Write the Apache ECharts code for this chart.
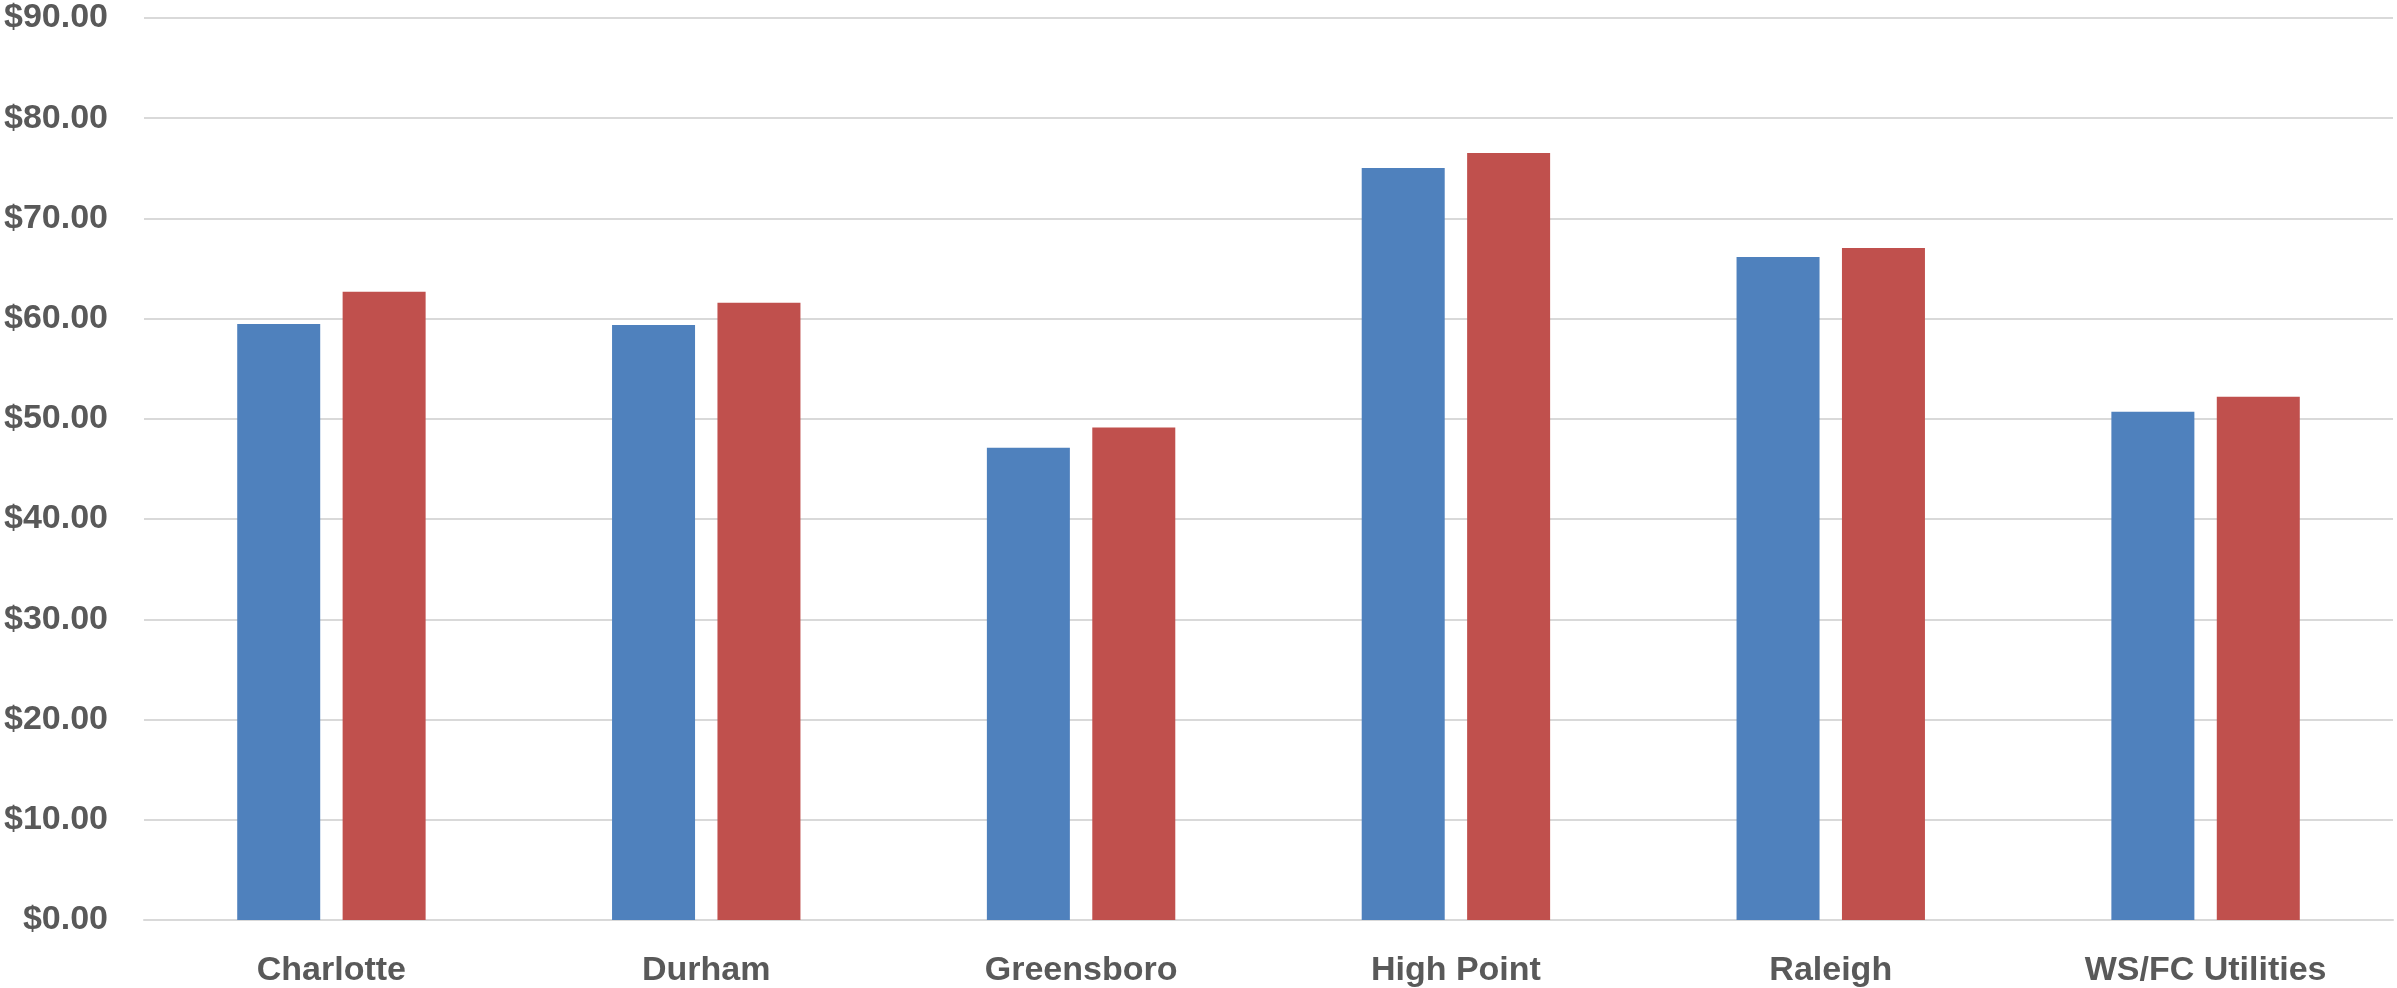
<!DOCTYPE html>
<html>
<head>
<meta charset="utf-8">
<script src="https://cdn.jsdelivr.net/npm/echarts@6/dist/echarts.min.js"></script>
<style>
  html, body { margin: 0; padding: 0; background: #ffffff; }
  #chart { width: 2397px; height: 988px; }
</style>
</head>
<body>
<div id="chart"></div>
<script>
const categories = ['Charlotte', 'Durham', 'Greensboro', 'High Point', 'Raleigh', 'WS/FC Utilities'];
const seriesA = [59.46, 59.36, 47.11, 75.03, 66.16, 50.70];
const seriesB = [62.68, 61.58, 49.13, 76.52, 67.06, 52.22];
const yMin = 0, yMax = 90, yStep = 10;

const textColor = '#595959';
const fontFamily = '"Liberation Sans", Arial, sans-serif';

const chart = echarts.init(document.getElementById('chart'), null, { renderer: 'canvas' });
chart.setOption({
  animation: false,
  backgroundColor: '#ffffff',
  grid: { left: 144, right: 4, top: 18, bottom: 66, containLabel: false },
  xAxis: {
    type: 'category',
    data: categories,
    axisTick: { show: false },
    axisLine: { show: true, lineStyle: { color: '#D9D9D9', width: 2 } },
    axisLabel: {
      color: textColor, fontFamily: fontFamily, fontWeight: 'bold', fontSize: 34,
      margin: 34
    }
  },
  yAxis: {
    type: 'value',
    min: yMin, max: yMax, interval: yStep,
    axisLine: { show: false },
    axisTick: { show: false },
    splitLine: { show: true, lineStyle: { color: '#D9D9D9', width: 2 } },
    axisLabel: {
      color: textColor, fontFamily: fontFamily, fontWeight: 'bold', fontSize: 34,
      margin: 36,
      formatter: v => '$' + v.toFixed(2)
    }
  },
  series: [
    { type: 'bar', data: seriesA, barWidth: 83, barGap: '27%',
      itemStyle: { color: '#4F81BD' } },
    { type: 'bar', data: seriesB, barWidth: 83, barGap: '27%',
      itemStyle: { color: '#C0504D' } }
  ]
});
</script>
</body>
</html>
